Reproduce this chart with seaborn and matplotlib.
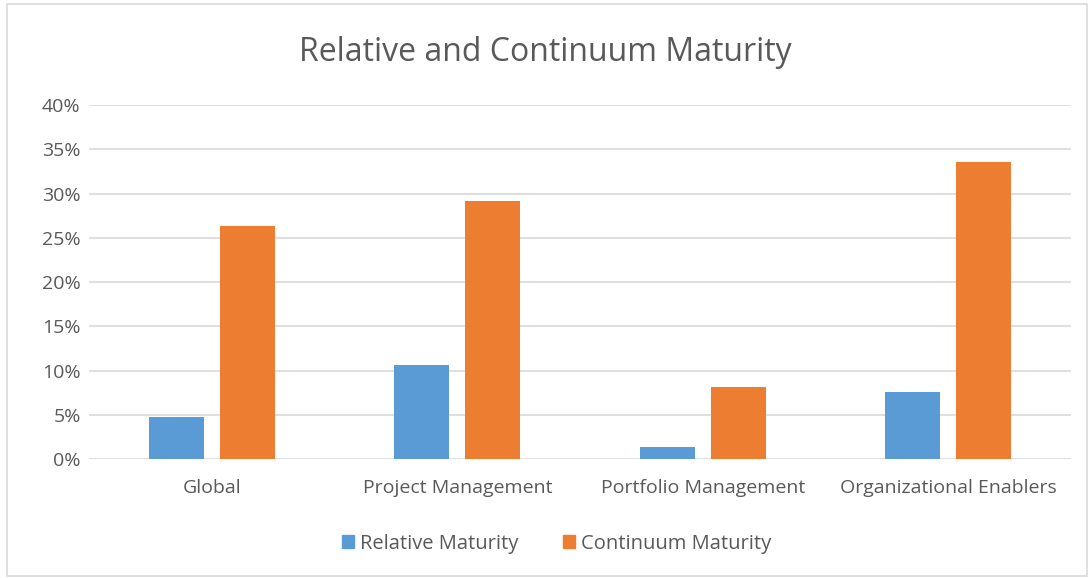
import matplotlib
matplotlib.use("Agg")
import matplotlib.pyplot as plt
import matplotlib.patches as mpatches
import seaborn as sns
import pandas as pd
from matplotlib.ticker import PercentFormatter

# data (percent)
categories = ["Global", "Project Management", "Portfolio Management", "Organizational Enablers"]
relative_maturity = [4.8, 10.65, 1.35, 7.55]
continuum_maturity = [26.3, 29.2, 8.2, 33.55]
series_names = ["Relative Maturity", "Continuum Maturity"]
colors = ["#5b9bd5", "#ed7d31"]
y_ticks = [0, 5, 10, 15, 20, 25, 30, 35, 40]

df = pd.DataFrame({
    "category": categories * 2,
    "series": [series_names[0]] * 4 + [series_names[1]] * 4,
    "value": relative_maturity + continuum_maturity,
})

sns.set_style("white")
plt.rcParams["font.family"] = ["Open Sans", "DejaVu Sans"]
text_color = "#595959"
grid_color = "#d9d9d9"

fig = plt.figure(figsize=(10.91, 5.78), dpi=100)
ax = fig.add_axes([0.0816, 0.2054, 0.9001, 0.6129])

sns.barplot(data=df, x="category", y="value", hue="series", palette=colors,
            width=0.58, gap=0.225, ax=ax, legend=False, saturation=1, linewidth=0)

ax.set_ylim(0, 40)
ax.set_xlim(-0.5, 3.5)
ax.set_yticks(y_ticks)
ax.yaxis.set_major_formatter(PercentFormatter(decimals=0))
ax.yaxis.grid(True, color=grid_color, linewidth=1.2)
ax.set_axisbelow(True)
for s in ax.spines.values():
    s.set_visible(False)
ax.tick_params(axis="both", length=0, labelsize=14, labelcolor=text_color)
ax.tick_params(axis="y", pad=6)
ax.tick_params(axis="x", pad=14)
ax.set_xlabel("")
ax.set_ylabel("")

fig.text(0.5, 0.91, "Relative and Continuum Maturity", ha="center", va="center",
         fontsize=23, color=text_color)

handles = [mpatches.Patch(color=c, label=n) for c, n in zip(colors, series_names)]
fig.legend(handles=handles, loc="center", bbox_to_anchor=(0.51, 0.059), ncol=2,
           frameon=False, fontsize=14.5, labelcolor=text_color,
           handlelength=0.6, handleheight=0.6, handletextpad=0.3, columnspacing=2.2)

# thin frame around the chart like the original
fig.patches.append(mpatches.Rectangle((0.006, 0.003), 0.99, 0.99, transform=fig.transFigure,
                                      fill=False, edgecolor="#d9d9d9", linewidth=1.2))

fig.savefig("out.png", dpi=100)
